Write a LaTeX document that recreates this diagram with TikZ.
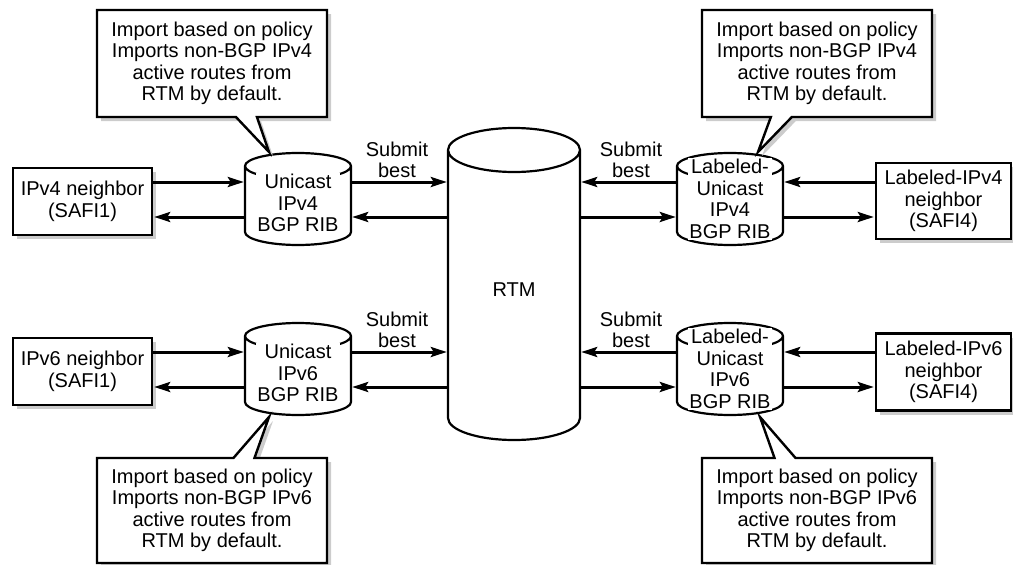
\documentclass[tikz,border=0pt]{standalone}
\usepackage{fontspec}
\setmainfont{Liberation Sans}
\usetikzlibrary{arrows.meta,shapes.callouts,shadows}
\begin{document}
\begin{tikzpicture}[x=1pt,y=-1pt,
  every node/.style={font=\fontsize{20pt}{21.5pt}\selectfont},
  shad/.style={drop shadow={shadow xshift=4pt,shadow yshift=-4pt,fill=black!20,opacity=1}},
  nbox/.style={draw,line width=2.4pt,fill=white,shad,inner sep=0pt,align=center},
  callbox/.style={rectangle callout,draw,line width=2.4pt,fill=white,shad,inner sep=0pt,align=center,
     minimum width=230pt,callout pointer width=21pt},
  holder/.style={draw=none,inner sep=0pt},
  cyl/.style={line width=2.2pt},
  lbl/.style={fill=white,inner sep=1pt,align=center},
  arr/.style={line width=3pt,-{Stealth[length=16pt,width=10pt,inset=3pt]},shorten >=1pt},
]
\useasboundingbox (0,0) rectangle (1013,565);
\newcommand\cylpath[5]{%
  \draw[cyl] ({#1-#2},#3) -- ({#1-#2},#4)
    arc[start angle=180,end angle=360,x radius=#2pt,y radius=#5pt]
    -- ({#1+#2},#3)
    arc[start angle=0,end angle=180,x radius=#2pt,y radius=#5pt]
    arc[start angle=180,end angle=360,x radius=#2pt,y radius=#5pt];}

% y levels
\coordinate (ya) at (0,182);
\coordinate (yb) at (0,217);
\coordinate (yc) at (0,352);
\coordinate (yd) at (0,387);

% RTM
\node[holder,minimum width=132pt,minimum height=312pt] (rtm) at (514,284) {};
\cylpath{514}{66}{150}{418}{22}
\node[lbl] (rtmt) at (514,290) {RTM};

% small cylinders
\node[holder,minimum width=106pt,minimum height=92pt] (c1) at (298,199) {};
\cylpath{298}{53}{166}{232}{13}
\node[lbl] (c1t) at (298,203) {Unicast\\IPv4\\BGP RIB};

\node[holder,minimum width=106pt,minimum height=92pt] (c2) at (730,199) {};
\cylpath{730}{53}{166}{232}{13}
\node[lbl] (c2t) at (730,199) {Labeled-\\Unicast\\IPv4\\BGP RIB};

\node[holder,minimum width=106pt,minimum height=92pt] (c3) at (298,369) {};
\cylpath{298}{53}{336}{402}{13}
\node[lbl] (c3t) at (298,373) {Unicast\\IPv6\\BGP RIB};

\node[holder,minimum width=106pt,minimum height=92pt] (c4) at (730,369) {};
\cylpath{730}{53}{336}{402}{13}
\node[lbl] (c4t) at (730,369) {Labeled-\\Unicast\\IPv6\\BGP RIB};

% neighbor boxes
\node[nbox,minimum width=139pt,minimum height=67pt] (n1) at (82.5,201.5) {IPv4 neighbor\\(SAFI1)};
\node[nbox,minimum width=139pt,minimum height=67pt] (n3) at (82.5,371.5) {IPv6 neighbor\\(SAFI1)};
\node[nbox,minimum width=135pt,minimum height=76pt] (n2) at (943.5,201) {Labeled-IPv4\\neighbor\\(SAFI4)};
\node[nbox,minimum width=135pt,minimum height=77pt] (n4) at (943.5,372) {Labeled-IPv6\\neighbor\\(SAFI4)};

% callouts
\coordinate (t1) at (269,152);
\coordinate (t2) at (758,152);
\coordinate (t3) at (269,417);
\coordinate (t4) at (760,417);
\node[callbox,minimum height=107pt,callout absolute pointer={(t1)}] (k1) at (212,63.5)
  {Import based on policy\\Imports non-BGP IPv4\\active routes from\\RTM by default.};
\node[callbox,minimum height=107pt,callout absolute pointer={(t2)}] (k2) at (817,63.5)
  {Import based on policy\\Imports non-BGP IPv4\\active routes from\\RTM by default.};
\node[callbox,minimum height=105pt,callout absolute pointer={(t3)}] (k3) at (212,510.5)
  {Import based on policy\\Imports non-BGP IPv6\\active routes from\\RTM by default.};
\node[callbox,minimum height=105pt,callout absolute pointer={(t4)}] (k4) at (817,510.5)
  {Import based on policy\\Imports non-BGP IPv6\\active routes from\\RTM by default.};

% submit best labels
\node[align=center,inner sep=0pt] (s1) at (397,160) {Submit\\best};
\node[align=center,inner sep=0pt] (s2) at (631,160) {Submit\\best};
\node[align=center,inner sep=0pt] (s3) at (397,330) {Submit\\best};
\node[align=center,inner sep=0pt] (s4) at (631,330) {Submit\\best};

% arrows top-left
\draw[arr] (n1.east |- ya) -- (c1.west |- ya);
\draw[arr] (c1.west |- yb) -- (n1.east |- yb);
\draw[arr] (c1.east |- ya) -- (rtm.west |- ya);
\draw[arr] (rtm.west |- yb) -- (c1.east |- yb);
% top-right
\draw[arr] (n2.west |- ya) -- (c2.east |- ya);
\draw[arr] (c2.east |- yb) -- (n2.west |- yb);
\draw[arr] (c2.west |- ya) -- (rtm.east |- ya);
\draw[arr] (rtm.east |- yb) -- (c2.west |- yb);
% bottom-left
\draw[arr] (n3.east |- yc) -- (c3.west |- yc);
\draw[arr] (c3.west |- yd) -- (n3.east |- yd);
\draw[arr] (c3.east |- yc) -- (rtm.west |- yc);
\draw[arr] (rtm.west |- yd) -- (c3.east |- yd);
% bottom-right
\draw[arr] (n4.west |- yc) -- (c4.east |- yc);
\draw[arr] (c4.east |- yd) -- (n4.west |- yd);
\draw[arr] (c4.west |- yc) -- (rtm.east |- yc);
\draw[arr] (rtm.east |- yd) -- (c4.west |- yd);
\end{tikzpicture}
\end{document}
